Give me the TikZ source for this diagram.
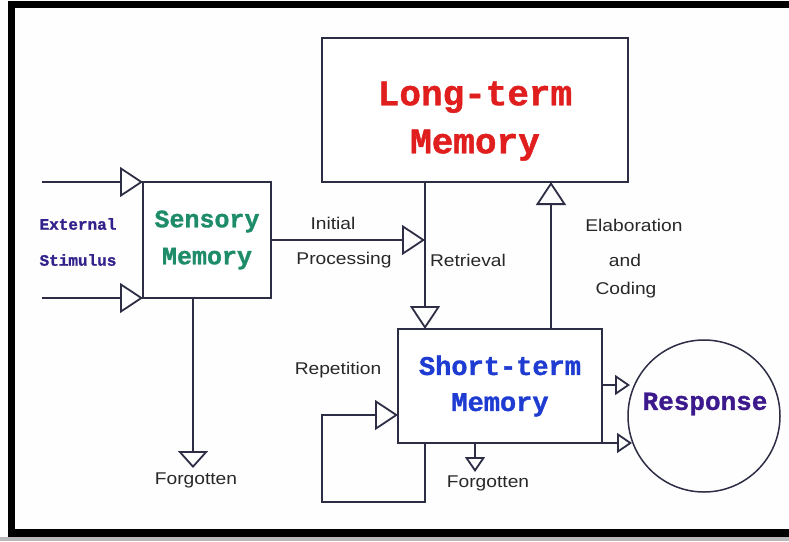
\documentclass[tikz,border=0pt]{standalone}
\usepackage{fontspec}
\usetikzlibrary{arrows.meta}
\newfontfamily\boxfont[BoldFeatures={FakeBold=1.2}]{Liberation Mono}
\newfontfamily\labfont[FakeStretch=1.13]{Liberation Sans}
\definecolor{linecol}{RGB}{45,45,70}
\definecolor{ltmcol}{RGB}{225,30,30}
\definecolor{senscol}{RGB}{30,140,105}
\definecolor{stmcol}{RGB}{30,60,210}
\definecolor{respcol}{RGB}{60,25,140}
\definecolor{extcol}{RGB}{50,35,140}
\definecolor{labcol}{RGB}{40,40,40}
\tikzset{
  membox/.style={draw=linecol,line width=2pt,fill=white,inner sep=0pt,outer sep=0pt,align=center},
  flow/.style={draw=linecol,line width=1.8pt},
  bigtip/.style={-{Triangle[open,length=23pt,width=30pt]}},
  sforgtip/.style={-{Triangle[open,length=17pt,width=30pt]}},
  smalltip/.style={-{Triangle[open,length=15pt,width=20pt]}},
  lab/.style={font=\labfont\fontsize{17}{20}\selectfont,text=labcol},
}
\begin{document}
\begin{tikzpicture}[x=1pt,y=-1pt]
\useasboundingbox (0,0) rectangle (789,541);
\fill[white!99!gray] (0,0) rectangle (789,541);
\fill[gray!55] (0,537) rectangle (789,541);
\draw[line width=7.5pt] (789,4.5) -- (11.5,4.5) -- (11.5,533) -- (789,533);
% boxes
\node[membox,minimum width=306pt,minimum height=144pt] (ltm) at (475,110) {};
\node[font=\boxfont\bfseries\fontsize{36}{48}\selectfont,text=ltmcol,align=center] (ltmtxt) at (475,121) {Long-term\\Memory};
\node[membox,minimum width=128pt,minimum height=116pt,font=\boxfont\bfseries\fontsize{25}{37}\selectfont,text=senscol] (sens) at (207,240) {Sensory\\Memory};
\node[membox,minimum width=204pt,minimum height=114pt,font=\boxfont\bfseries\fontsize{27}{36}\selectfont,text=stmcol] (stm) at (500,386) {Short-term\\Memory};
\node[circle,draw=linecol,line width=1.5pt,minimum size=152pt] (resp) at (704,416) {};
\node[font=\boxfont\bfseries\fontsize{26}{30}\selectfont,text=respcol] (resptxt) at (705,404) {Response};
% connector ends
\coordinate (inA) at (42,182);
\coordinate (inB) at (42,298);
\coordinate (ret) at (425,240);
\coordinate (elab) at (551,260);
\coordinate (sforg) at (193,468);
\coordinate (mforg) at (475,472);
\coordinate (loopA) at (425,502);
\coordinate (loopB) at (322,502);
\coordinate (loopC) at (322,415);
\coordinate (rA) at (630,385);
\coordinate (rB) at (632,443);
% connectors
\draw[flow,bigtip] (inA) -- (sens.north west);
\draw[flow,bigtip] (inB) -- (sens.south west);
\draw[flow,bigtip] (sens.east) -- (ret);
\draw[flow,bigtip] (ltm.south -| ret) -- (stm.north -| ret);
\draw[flow,bigtip] (stm.north -| elab) -- (ltm.south -| elab);
\draw[flow,sforgtip] (sens.south -| sforg) -- (sforg);
\draw[flow,smalltip] (stm.south -| mforg) -- (mforg);
\draw[flow,bigtip] (stm.south -| loopA) -- (loopA) -- (loopB) -- (loopC) -- (stm.west |- loopC);
\draw[flow,smalltip] (stm.east |- rA) -- (rA);
\draw[flow,smalltip] (stm.east |- rB) -- (rB);
% labels
\node[font=\boxfont\bfseries\fontsize{16}{20}\selectfont,text=extcol] (ext) at (78,224) {External};
\node[font=\boxfont\bfseries\fontsize{16}{20}\selectfont,text=extcol] (stim) at (78,260) {Stimulus};
\node[lab] (ini) at (333,223) {Initial};
\node[lab] (proc) at (344,260) {Processing};
\node[lab] (retr) at (468,260) {Retrieval};
\node[lab] (elabA) at (634,225) {Elaboration};
\node[lab] (elabB) at (625,260) {and};
\node[lab] (elabC) at (626,290) {Coding};
\node[lab] (rept) at (338,370) {Repetition};
\node[lab] (forgA) at (196,480) {Forgotten};
\node[lab] (forgB) at (488,483) {Forgotten};
\end{tikzpicture}
\end{document}
